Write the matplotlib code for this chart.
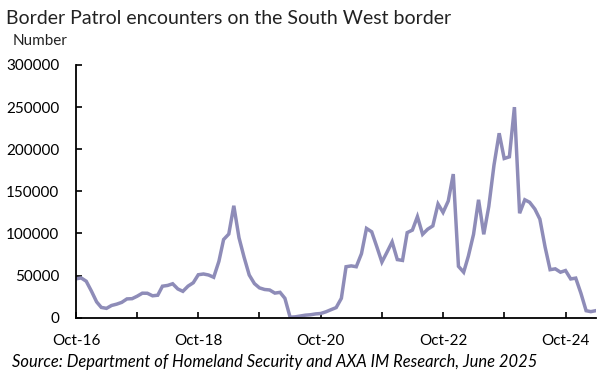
import matplotlib
matplotlib.use('Agg')
import matplotlib.pyplot as plt
import matplotlib.dates as mdates
import pandas as pd

# monthly USBP encounters on the SW border, Oct-16 .. Apr-25
encounters = [
    46200, 47200, 43300, 31600, 18800, 12200, 11100, 14500, 16100, 18200, 22300, 22600,   # FY17
    25500, 29100, 29000, 26000, 26700, 37400, 38300, 40300, 34100, 31300, 37500, 41500,   # FY18
    51000, 51900, 50700, 48000, 66900, 92800, 99300, 132900, 94900, 72000, 50700, 40500,  # FY19
    35400, 33500, 32900, 29200, 30100, 23000, 600, 1000, 2000, 3000, 3500, 4500,          # FY20
    5000, 7000, 9500, 12000, 23000, 60500, 61500, 60500, 76000, 106000, 102000, 84000,    # FY21
    66000, 78000, 90000, 69000, 68000, 101000, 104000, 120000, 99000, 105000, 109000, 135000,  # FY22
    125000, 138500, 170500, 61000, 54000, 73000, 99000, 140000, 99000, 132000, 181000, 219000,  # FY23
    189000, 191000, 250000, 124000, 140000, 137000, 129000, 117000, 84000, 57000, 58000, 54000,  # FY24
    56000, 46000, 47000, 29000, 8300, 7200, 8400,                                         # FY25
]
months = pd.date_range('2016-10-01', periods=len(encounters), freq='MS')

title = 'Border Patrol encounters on the South West border'
unit_label = 'Number'
source = 'Source: Department of Homeland Security and AXA IM Research, June 2025'
y_ticks = [0, 50000, 100000, 150000, 200000, 250000, 300000]

plt.rcParams['font.family'] = ['Lato', 'DejaVu Sans']

fig = plt.figure(figsize=(6.12, 3.78), dpi=100)
ax = fig.add_axes([76 / 612, 1 - 317.7 / 378, 520 / 612, 252.7 / 378])

ax.plot(months, encounters, color='#8E8CB8', linewidth=2.5, solid_joinstyle='miter')

ax.set_ylim(0, 300000)
ax.set_yticks(y_ticks)
ax.set_yticklabels([str(v) for v in y_ticks])
ax.set_xlim(months[0], months[-1])

ax.xaxis.set_major_locator(mdates.MonthLocator(bymonth=10))
ax.xaxis.set_major_formatter(mdates.DateFormatter('%b-%y'))
ax.tick_params(axis='both', direction='in', length=4, width=1.2, labelsize=11, colors='black')
ax.tick_params(axis='x', pad=12)
ax.tick_params(axis='y', pad=12)

for side in ['top', 'right']:
    ax.spines[side].set_visible(False)
for side in ['left', 'bottom']:
    ax.spines[side].set_linewidth(1.3)

fig.canvas.draw()
# only every other October is labelled
for i, lab in enumerate(ax.get_xticklabels()):
    if i % 2:
        lab.set_visible(False)

fig.text(6 / 612, 1 - 18 / 378, title, fontsize=14, color='#222222', va='center', ha='left')
fig.text(13 / 612, 1 - 41 / 378, unit_label, fontsize=11, color='#222222', va='center', ha='left')
fig.text(12 / 612, 1 - 362 / 378, source, fontsize=11.9, style='italic', va='center', ha='left')

fig.savefig('out.png', dpi=100)
